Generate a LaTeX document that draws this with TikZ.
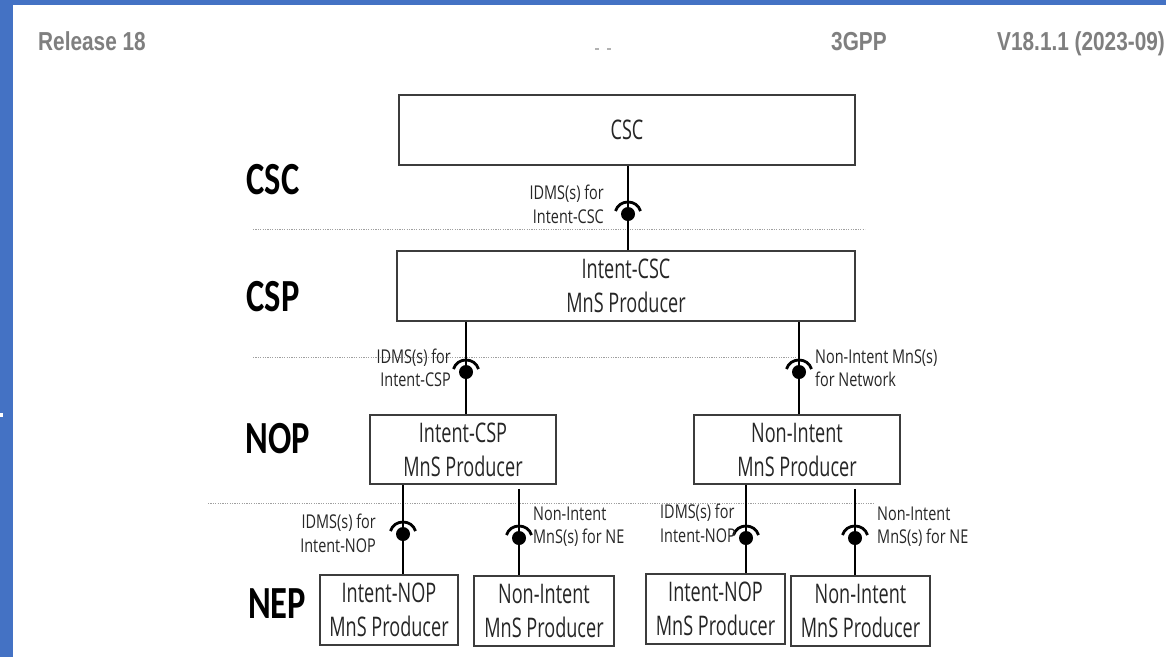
\documentclass[tikz,border=0pt]{standalone}
\usepackage{fontspec}
\newfontfamily\hdrfont[FakeStretch=0.80]{Liberation Sans Bold}
\newfontfamily\lvlfont[FakeStretch=0.75]{Carlito Bold}
\newfontfamily\boxfont[FakeStretch=0.67]{Open Sans}
\newfontfamily\lblfont[FakeStretch=0.76]{Open Sans}
\definecolor{frameblue}{HTML}{4472C4}
\definecolor{hdrgray}{HTML}{7F7F7F}
\definecolor{boxline}{HTML}{3C3C3C}
\definecolor{ink}{HTML}{262626}
\begin{document}
\begin{tikzpicture}[x=1pt,y=-1pt,
  hdr/.style={font=\hdrfont\fontsize{26}{28}\selectfont, text=hdrgray, inner sep=0},
  level/.style={font=\lvlfont\fontsize{46}{48}\selectfont, text=black, inner sep=0},
  mbox/.style={draw=boxline, line width=1.6pt, inner sep=0, align=center,
    font=\boxfont\fontsize{27}{34}\selectfont, text=ink},
  lbl/.style={font=\lblfont\fontsize{19}{23.5}\selectfont, text=ink, inner sep=0},
  link/.style={line width=2.2pt, black},
  sep/.style={gray!75, line width=0.9pt, dash pattern=on 1.2pt off 1.2pt},
  pics/socket/.style={code={
    \fill[black] (0,0) ellipse [x radius=7, y radius=7];
    \draw[black, line width=2.8pt] (-12.5,-3) .. controls (-9,-15) and (9,-15) .. (12.5,-3);
  }}]
\useasboundingbox (0,0) rectangle (1166,657);
\fill[white] (0,0) rectangle (1166,657);

% page frame
\fill[frameblue] (0,0) rectangle (13,657);
\fill[frameblue] (0,0) rectangle (1166,5);
\fill[white] (0,413) rectangle (3,417);

% running header
\node[hdr, anchor=base west] (rel) at (38,50) {Release 18};
\node[hdr, anchor=base west] (org) at (831,50) {3GPP};
\node[hdr, anchor=base west] (ver) at (997,50) {V18.1.1 (2023-09)};
\fill[hdrgray!60] (595,48) rectangle (599,50);
\fill[hdrgray!60] (607,48) rectangle (611,50);

% level separators
\draw[sep] (253,229) -- (865,229);
\draw[sep] (253,357) -- (796,357);
\draw[sep] (208,503) -- (873,503);

% level names
\node[level] (lcsc) at (273,180) {CSC};
\node[level] (lcsp) at (273,297) {CSP};
\node[level] (lnop) at (278,439) {NOP};
\node[level] (lnep) at (277,604) {NEP};

% producer boxes
\node[mbox, minimum width=456, minimum height=70] (csc) at (627,130) {CSC};
\node[mbox, minimum width=458, minimum height=70] (icsc) at (626,286) {Intent-CSC\\MnS Producer};
\node[mbox, minimum width=186, minimum height=69] (icsp) at (463,449.5) {Intent-CSP\\MnS Producer};
\node[mbox, minimum width=206, minimum height=69] (nnet) at (797,449.5) {Non-Intent\\MnS Producer};
\node[mbox, minimum width=138, minimum height=70] (inop1) at (389,610) {Intent-NOP\\MnS Producer};
\node[mbox, minimum width=140, minimum height=70] (nne1) at (544,611) {Non-Intent\\MnS Producer};
\node[mbox, minimum width=139, minimum height=70] (inop2) at (715.5,609) {Intent-NOP\\MnS Producer};
\node[mbox, minimum width=139, minimum height=70] (nne2) at (860.5,611) {Non-Intent\\MnS Producer};

% management service connectors
\draw[link] (csc.south -| 628,0) -- (icsc.north -| 628,0);
\draw[link] (icsc.south -| 466,0) -- (icsp.north -| 466,0);
\draw[link] (icsc.south -| 799,0) -- (nnet.north -| 799,0);
\draw[link] (icsp.south -| 403,0) -- (inop1.north -| 403,0);
\draw[link] (icsp.south -| 519,0) ++(0,4) -- (nne1.north -| 519,0);
\draw[link] (nnet.south -| 746,0) -- (inop2.north -| 746,0);
\draw[link] (nnet.south -| 855,0) ++(0,4) -- (nne2.north -| 855,0);

% interface sockets
\pic at (628,214) {socket};
\pic at (466,372) {socket};
\pic at (799,372) {socket};
\pic at (403,534) {socket};
\pic at (519,538) {socket};
\pic at (746,538) {socket};
\pic at (855,538) {socket};

% interface labels
\node[lbl, align=right, anchor=east] (t1) at (604,204.5) {IDMS(s) for\\Intent-CSC};
\node[lbl, align=right, anchor=east] (t2) at (451,368) {IDMS(s) for\\Intent-CSP};
\node[lbl, align=left, anchor=west] (t3) at (815,368) {Non-Intent MnS(s)\\for Network};
\node[lbl, align=right, anchor=east] (t4) at (376,533.5) {IDMS(s) for\\Intent-NOP};
\node[lbl, align=left, anchor=west] (t5) at (533,526.5) {Non-Intent\\MnS(s) for NE};
\node[lbl, align=left, anchor=west] (t6) at (660,523.5) {IDMS(s) for\\Intent-NOP};
\node[lbl, align=left, anchor=west] (t7) at (877,526.5) {Non-Intent\\MnS(s) for NE};
\end{tikzpicture}
\end{document}
